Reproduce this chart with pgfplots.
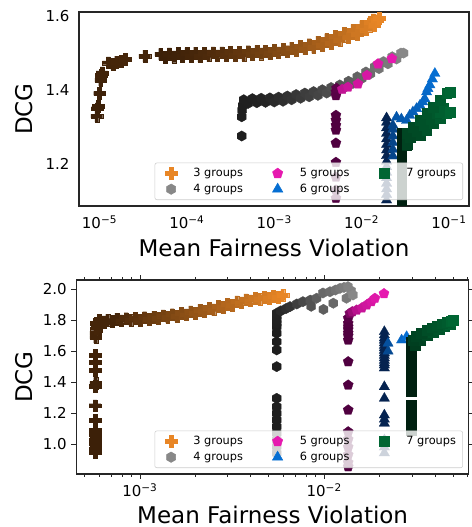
\documentclass[border=0pt]{standalone}
\usepackage{fontspec}
\setmainfont{DejaVu Sans}
\usepackage{pgfplots}
\usepackage{pgfplotstable}
\pgfplotsset{compat=1.18}

\definecolor{c3d}{RGB}{60,32,8}
\definecolor{c3l}{RGB}{232,134,38}
\definecolor{c4d}{RGB}{30,30,30}
\definecolor{c4l}{RGB}{136,136,136}
\definecolor{c5d}{RGB}{80,0,64}
\definecolor{c5l}{RGB}{230,25,175}
\definecolor{c6d}{RGB}{5,35,80}
\definecolor{c6l}{RGB}{5,110,210}
\definecolor{c7d}{RGB}{0,32,16}
\definecolor{c7l}{RGB}{0,102,51}

\pgfdeclareplotmark{fplus}{%
  \pgfpathmoveto{\pgfpoint{-0.3333\pgfplotmarksize}{-\pgfplotmarksize}}%
  \pgfpathlineto{\pgfpoint{0.3333\pgfplotmarksize}{-\pgfplotmarksize}}%
  \pgfpathlineto{\pgfpoint{0.3333\pgfplotmarksize}{-0.3333\pgfplotmarksize}}%
  \pgfpathlineto{\pgfpoint{\pgfplotmarksize}{-0.3333\pgfplotmarksize}}%
  \pgfpathlineto{\pgfpoint{\pgfplotmarksize}{0.3333\pgfplotmarksize}}%
  \pgfpathlineto{\pgfpoint{0.3333\pgfplotmarksize}{0.3333\pgfplotmarksize}}%
  \pgfpathlineto{\pgfpoint{0.3333\pgfplotmarksize}{\pgfplotmarksize}}%
  \pgfpathlineto{\pgfpoint{-0.3333\pgfplotmarksize}{\pgfplotmarksize}}%
  \pgfpathlineto{\pgfpoint{-0.3333\pgfplotmarksize}{0.3333\pgfplotmarksize}}%
  \pgfpathlineto{\pgfpoint{-\pgfplotmarksize}{0.3333\pgfplotmarksize}}%
  \pgfpathlineto{\pgfpoint{-\pgfplotmarksize}{-0.3333\pgfplotmarksize}}%
  \pgfpathlineto{\pgfpoint{-0.3333\pgfplotmarksize}{-0.3333\pgfplotmarksize}}%
  \pgfpathclose\pgfusepathqfillstroke}
\pgfdeclareplotmark{hexa}{%
  \pgfpathmoveto{\pgfpointpolar{90}{\pgfplotmarksize}}%
  \pgfpathlineto{\pgfpointpolar{150}{\pgfplotmarksize}}%
  \pgfpathlineto{\pgfpointpolar{210}{\pgfplotmarksize}}%
  \pgfpathlineto{\pgfpointpolar{270}{\pgfplotmarksize}}%
  \pgfpathlineto{\pgfpointpolar{330}{\pgfplotmarksize}}%
  \pgfpathlineto{\pgfpointpolar{30}{\pgfplotmarksize}}%
  \pgfpathclose\pgfusepathqfillstroke}

\pgfplotsset{
  grad/.style 2 args={
    scatter, only marks, forget plot, point meta=explicit,
    scatter/@pre marker code/.code={%
      \pgfmathsetmacro\mcpct{\pgfplotspointmetatransformed/10}%
      \colorlet{mc}{#2!\mcpct!#1}%
      \scope[draw=mc, fill=mc, line width=0.2pt]%
    },
    scatter/@post marker code/.code={\endscope},
  },
  m3/.style={mark=fplus, mark size=4.4pt},
  m4/.style={mark=hexa, mark size=3.9pt},
  m5/.style={mark=pentagon*, mark size=4pt},
  m6/.style={mark=triangle*, mark size=4.5pt},
  m7/.style={mark=square*, mark size=3.7pt},
  base/.style={
    scale only axis, anchor=south west,
    point meta min=0, point meta max=1,
    axis line style={black!85, line width=0.8pt},
    tick style={black!85, line width=0.7pt},
    tick align=outside,
    major tick length=3.6pt, minor tick length=2pt,
    tick label style={font=\fontsize{11.25}{13}\selectfont},
    /pgf/number format/assume math mode=true,
    yticklabel style={/pgf/number format/.cd, fixed, fixed zerofill, precision=1},
    label style={font=\fontsize{17.25}{20}\selectfont},
    legend columns=3,
    legend cell align=left,
    legend image code/.code={\path (0pt,0pt) (23.5pt,0pt); \draw[##1, fill opacity=1, draw opacity=1] plot coordinates {(9pt,0pt)};},
    legend style={
      at={(axis description cs:1,0)}, anchor=south east, xshift=-4.5pt, yshift=4.5pt,
      draw=black!20, fill=white, fill opacity=0.8, draw opacity=1, text opacity=1,
      rounded corners=1.5pt, font=\fontsize{8.5}{10}\selectfont,
      /tikz/every even column/.append style={column sep=14.75pt},
    },
  },
}

% ---------------- top panel data ----------------
\pgfplotstableread[row sep=\\]{
x y c\\
9.3e-6 1.330 0\\
9.4e-6 1.350 0\\
9.6e-6 1.357 0\\
1.00e-5 1.391 0.02\\
1.03e-5 1.427 0.02\\
1.05e-5 1.440 0.03\\
1.07e-5 1.447 0.03\\
1.26e-5 1.474 0.04\\
1.42e-5 1.470 0.04\\
1.57e-5 1.476 0.05\\
1.78e-5 1.478 0.05\\
1.96e-5 1.483 0.06\\
3.3e-5 1.492 0.04\\
5.01e-5 1.497 0.00\\
5.62e-5 1.489 0.00\\
6.31e-5 1.498 0.01\\
7.08e-5 1.490 0.02\\
7.94e-5 1.499 0.02\\
8.91e-5 1.491 0.03\\
1.00e-4 1.499 0.04\\
1.12e-4 1.492 0.05\\
1.26e-4 1.500 0.06\\
1.41e-4 1.492 0.08\\
1.58e-4 1.500 0.09\\
1.78e-4 1.493 0.10\\
2.00e-4 1.501 0.12\\
2.24e-4 1.493 0.13\\
2.51e-4 1.501 0.15\\
2.82e-4 1.494 0.16\\
3.16e-4 1.502 0.18\\
3.55e-4 1.494 0.20\\
3.98e-4 1.503 0.22\\
4.47e-4 1.495 0.23\\
5.01e-4 1.504 0.25\\
5.62e-4 1.497 0.27\\
6.31e-4 1.505 0.29\\
7.08e-4 1.498 0.31\\
7.94e-4 1.506 0.33\\
8.91e-4 1.499 0.35\\
1.00e-3 1.508 0.38\\
1.12e-3 1.501 0.40\\
1.26e-3 1.510 0.42\\
1.41e-3 1.504 0.44\\
1.58e-3 1.514 0.47\\
1.78e-3 1.508 0.49\\
2.00e-3 1.518 0.51\\
2.24e-3 1.512 0.54\\
2.51e-3 1.523 0.56\\
2.82e-3 1.515 0.59\\
3.16e-3 1.530 0.61\\
3.55e-3 1.521 0.64\\
3.98e-3 1.537 0.66\\
4.47e-3 1.527 0.69\\
5.01e-3 1.546 0.72\\
5.62e-3 1.534 0.74\\
6.31e-3 1.554 0.77\\
7.08e-3 1.542 0.80\\
7.94e-3 1.562 0.83\\
8.91e-3 1.551 0.85\\
1.00e-2 1.572 0.88\\
1.12e-2 1.563 0.91\\
1.26e-2 1.584 0.94\\
1.35e-2 1.590 0.95\\
1.41e-2 1.576 0.97\\
1.50e-2 1.588 0.98\\
1.58e-2 1.594 1.00\\
}\tTa

\pgfplotstableread[row sep=\\]{
x y c\\
4.24e-4 1.276 0\\
4.24e-4 1.328 0\\
4.30e-4 1.346 0\\
4.35e-4 1.358 0.01\\
4.47e-4 1.374 0.02\\
5.01e-4 1.364 0.02\\
5.62e-4 1.377 0.03\\
6.31e-4 1.366 0.04\\
7.08e-4 1.378 0.06\\
7.94e-4 1.367 0.07\\
8.91e-4 1.379 0.09\\
1.00e-3 1.368 0.12\\
1.12e-3 1.381 0.14\\
1.26e-3 1.370 0.16\\
1.41e-3 1.384 0.19\\
1.58e-3 1.374 0.21\\
1.78e-3 1.388 0.24\\
2.00e-3 1.378 0.26\\
2.24e-3 1.392 0.29\\
2.51e-3 1.382 0.31\\
2.82e-3 1.396 0.34\\
3.16e-3 1.386 0.37\\
3.55e-3 1.401 0.40\\
3.98e-3 1.392 0.43\\
4.47e-3 1.407 0.46\\
5.01e-3 1.398 0.48\\
5.62e-3 1.414 0.52\\
6.31e-3 1.407 0.55\\
7.08e-3 1.424 0.58\\
7.94e-3 1.418 0.61\\
8.91e-3 1.436 0.64\\
1.00e-2 1.431 0.67\\
1.12e-2 1.449 0.71\\
1.26e-2 1.444 0.74\\
1.41e-2 1.463 0.77\\
1.58e-2 1.458 0.81\\
1.78e-2 1.477 0.84\\
2.00e-2 1.471 0.87\\
2.24e-2 1.490 0.91\\
2.51e-2 1.484 0.94\\
2.82e-2 1.500 0.98\\
3.02e-2 1.500 1.00\\
}\tTb

\pgfplotstableread[row sep=\\]{
x y c\\
5.08e-3 1.108 0\\
5.08e-3 1.130 0\\
5.08e-3 1.165 0\\
5.08e-3 1.205 0\\
5.08e-3 1.257 0\\
5.08e-3 1.292 0\\
5.08e-3 1.305 0\\
5.08e-3 1.319 0\\
5.08e-3 1.332 0\\
5.08e-3 1.385 0.05\\
5.08e-3 1.395 0.05\\
5.15e-3 1.405 0.08\\
6.00e-3 1.402 0.75\\
6.97e-3 1.408 0.82\\
9.07e-3 1.417 0.86\\
1.15e-2 1.440 0.90\\
1.54e-2 1.471 0.95\\
2.22e-2 1.485 1.00\\
}\tTc

\pgfplotstableread[row sep=\\]{
x y c\\
1.93e-2 1.103 0\\
1.93e-2 1.118 0\\
1.93e-2 1.133 0\\
1.93e-2 1.148 0\\
1.93e-2 1.163 0\\
1.93e-2 1.178 0\\
1.93e-2 1.193 0\\
1.93e-2 1.208 0\\
1.93e-2 1.223 0\\
1.93e-2 1.238 0\\
1.93e-2 1.253 0\\
1.93e-2 1.268 0\\
1.93e-2 1.283 0\\
1.93e-2 1.298 0\\
1.93e-2 1.313 0\\
1.93e-2 1.325 0\\
2.28e-2 1.222 0.45\\
2.28e-2 1.240 0.45\\
2.28e-2 1.258 0.45\\
2.28e-2 1.276 0.45\\
2.28e-2 1.294 0.45\\
2.28e-2 1.305 0.45\\
2.51e-2 1.327 0.70\\
2.85e-2 1.322 0.72\\
3.27e-2 1.318 0.75\\
3.55e-2 1.332 0.78\\
3.86e-2 1.341 0.80\\
4.25e-2 1.350 0.83\\
4.65e-2 1.359 0.85\\
5.00e-2 1.368 0.88\\
5.30e-2 1.376 0.90\\
5.54e-2 1.395 0.92\\
5.74e-2 1.404 0.94\\
6.04e-2 1.414 0.96\\
6.45e-2 1.430 0.98\\
6.89e-2 1.445 1.00\\
}\tTd

\pgfplotstableread[row sep=\\]{
x y c\\
2.87e-2 1.103 0\\
2.87e-2 1.118 0\\
2.87e-2 1.133 0\\
2.87e-2 1.148 0\\
2.87e-2 1.163 0\\
2.87e-2 1.178 0\\
2.87e-2 1.193 0\\
2.87e-2 1.208 0\\
2.87e-2 1.223 0\\
2.87e-2 1.238 0\\
2.87e-2 1.253 0\\
2.87e-2 1.268 0\\
2.87e-2 1.283 0\\
3.27e-2 1.250 0.30\\
3.30e-2 1.255 0.50\\
4.65e-2 1.278 0.60\\
5.54e-2 1.292 0.70\\
6.55e-2 1.310 0.75\\
7.87e-2 1.325 0.85\\
9.39e-2 1.337 0.95\\
3.55e-2 1.272 0.55\\
4.25e-2 1.288 0.60\\
5.00e-2 1.305 0.70\\
6.00e-2 1.322 0.75\\
7.20e-2 1.338 0.80\\
8.60e-2 1.352 0.90\\
7.87e-2 1.341 0.90\\
1.02e-1 1.341 1.00\\
3.27e-2 1.284 0.55\\
3.86e-2 1.301 0.60\\
4.65e-2 1.319 0.70\\
5.54e-2 1.338 0.75\\
6.55e-2 1.355 0.80\\
7.87e-2 1.373 0.85\\
9.39e-2 1.392 0.95\\
1.02e-1 1.395 1.00\\
}\tTe

% ---------------- bottom panel data ----------------
\pgfplotstableread[row sep=\\]{
x y c\\
5.70e-4 0.944 0\\
5.70e-4 0.965 0\\
5.75e-4 0.985 0\\
5.70e-4 1.005 0\\
5.70e-4 1.025 0\\
5.75e-4 1.045 0\\
5.70e-4 1.065 0\\
5.70e-4 1.090 0\\
5.70e-4 1.155 0\\
5.70e-4 1.248 0.02\\
5.70e-4 1.375 0.02\\
5.75e-4 1.392 0.02\\
5.70e-4 1.478 0.03\\
5.70e-4 1.530 0.03\\
5.70e-4 1.575 0.03\\
5.75e-4 1.690 0.04\\
5.75e-4 1.717 0.04\\
5.80e-4 1.745 0.05\\
5.85e-4 1.770 0.05\\
5.80e-4 1.780 0.05\\
6.00e-4 1.785 0.06\\
6.10e-4 1.760 0.05\\
6.00e-4 1.800 0.05\\
6.31e-4 1.790 0.05\\
6.68e-4 1.800 0.05\\
7.08e-4 1.793 0.05\\
7.50e-4 1.808 0.06\\
7.94e-4 1.797 0.10\\
8.41e-4 1.811 0.12\\
8.91e-4 1.799 0.15\\
9.44e-4 1.813 0.18\\
1.000e-3 1.802 0.20\\
1.059e-3 1.817 0.23\\
1.122e-3 1.806 0.26\\
1.189e-3 1.821 0.28\\
1.259e-3 1.812 0.31\\
1.334e-3 1.829 0.33\\
1.413e-3 1.819 0.36\\
1.496e-3 1.837 0.38\\
1.585e-3 1.828 0.41\\
1.679e-3 1.846 0.43\\
1.778e-3 1.836 0.46\\
1.884e-3 1.855 0.48\\
1.995e-3 1.846 0.51\\
2.113e-3 1.866 0.54\\
2.239e-3 1.857 0.56\\
2.371e-3 1.877 0.59\\
2.512e-3 1.868 0.61\\
2.661e-3 1.890 0.64\\
2.818e-3 1.883 0.66\\
2.985e-3 1.905 0.69\\
3.162e-3 1.898 0.71\\
3.350e-3 1.920 0.74\\
3.548e-3 1.913 0.77\\
3.758e-3 1.933 0.79\\
3.981e-3 1.926 0.82\\
4.217e-3 1.943 0.84\\
4.467e-3 1.936 0.87\\
4.732e-3 1.950 0.89\\
5.012e-3 1.943 0.92\\
5.309e-3 1.956 0.94\\
5.623e-3 1.950 0.97\\
5.957e-3 1.962 1.00\\
}\tBa

\pgfplotstableread[row sep=\\]{
x y c\\
5.52e-3 0.940 0\\
5.52e-3 0.983 0\\
5.52e-3 1.026 0\\
5.52e-3 1.069 0\\
5.52e-3 1.112 0\\
5.52e-3 1.155 0\\
5.52e-3 1.198 0\\
5.52e-3 1.241 0\\
5.52e-3 1.295 0\\
5.52e-3 1.500 0\\
5.52e-3 1.608 0\\
5.52e-3 1.661 0\\
5.52e-3 1.716 0\\
5.52e-3 1.758 0\\
5.52e-3 1.780 0.02\\
5.52e-3 1.802 0.03\\
5.52e-3 1.825 0.04\\
5.52e-3 1.845 0.05\\
5.80e-3 1.860 0.10\\
6.20e-3 1.875 0.15\\
6.52e-3 1.888 0.20\\
7.10e-3 1.905 0.30\\
7.66e-3 1.920 0.40\\
8.40e-3 1.930 0.50\\
8.50e-3 1.890 0.50\\
9.09e-3 1.942 0.60\\
9.90e-3 1.870 0.60\\
9.84e-3 1.976 0.70\\
1.12e-2 1.910 0.70\\
1.074e-2 1.984 0.75\\
1.15e-2 1.995 0.80\\
1.217e-2 2.006 0.85\\
1.32e-2 1.942 0.85\\
1.28e-2 2.012 0.90\\
1.345e-2 2.017 0.95\\
1.40e-2 1.990 0.95\\
1.432e-2 1.963 1.00\\
}\tBb

\pgfplotstableread[row sep=\\]{
x y c\\
1.349e-2 0.853 0\\
1.349e-2 0.880 0\\
1.349e-2 0.930 0\\
1.349e-2 0.980 0\\
1.349e-2 1.030 0\\
1.349e-2 1.079 0\\
1.349e-2 1.220 0\\
1.349e-2 1.381 0\\
1.349e-2 1.532 0\\
1.349e-2 1.672 0\\
1.349e-2 1.700 0\\
1.349e-2 1.718 0\\
1.349e-2 1.740 0\\
1.349e-2 1.758 0\\
1.349e-2 1.780 0.02\\
1.349e-2 1.813 0.05\\
1.377e-2 1.845 0.30\\
1.420e-2 1.855 0.50\\
1.499e-2 1.866 0.70\\
1.600e-2 1.880 0.80\\
1.698e-2 1.899 0.85\\
1.800e-2 1.920 0.90\\
1.884e-2 1.942 0.95\\
2.110e-2 1.972 1.00\\
}\tBc

\pgfplotstableread[row sep=\\]{
x y c\\
2.12e-2 0.942 0\\
2.12e-2 0.980 0\\
2.12e-2 1.026 0\\
2.12e-2 1.134 0\\
2.12e-2 1.160 0\\
2.12e-2 1.187 0\\
2.12e-2 1.295 0\\
2.12e-2 1.370 0\\
2.12e-2 1.491 0\\
2.12e-2 1.510 0\\
2.12e-2 1.524 0\\
2.12e-2 1.540 0\\
2.12e-2 1.556 0\\
2.12e-2 1.572 0\\
2.12e-2 1.588 0\\
2.12e-2 1.605 0\\
2.12e-2 1.621 0\\
2.12e-2 1.637 0\\
2.12e-2 1.653 0\\
2.12e-2 1.670 0\\
2.12e-2 1.685 0\\
2.12e-2 1.705 0\\
2.12e-2 1.726 0\\
2.22e-2 1.600 0.50\\
2.22e-2 1.651 0.60\\
2.63e-2 1.672 0.90\\
2.80e-2 1.694 1.00\\
}\tBd

\pgfplotstableread[row sep=\\]{
x y c\\
2.97e-2 1.090 0\\
2.97e-2 1.110 0\\
2.97e-2 1.130 0\\
2.97e-2 1.150 0\\
2.97e-2 1.170 0\\
2.97e-2 1.190 0\\
2.97e-2 1.210 0\\
2.97e-2 1.230 0\\
2.97e-2 1.250 0\\
2.97e-2 1.340 0\\
2.97e-2 1.360 0\\
2.97e-2 1.380 0\\
2.97e-2 1.400 0\\
2.97e-2 1.420 0\\
2.97e-2 1.440 0\\
2.97e-2 1.460 0\\
2.97e-2 1.480 0\\
2.97e-2 1.500 0\\
2.97e-2 1.520 0\\
2.97e-2 1.540 0\\
2.97e-2 1.560 0\\
2.97e-2 1.580 0\\
2.97e-2 1.600 0\\
2.97e-2 1.620 0\\
2.97e-2 1.640 0\\
2.97e-2 1.660 0\\
3.10e-2 1.640 0.40\\
3.30e-2 1.670 0.50\\
3.60e-2 1.700 0.60\\
3.90e-2 1.725 0.70\\
4.20e-2 1.745 0.75\\
4.50e-2 1.762 0.80\\
4.80e-2 1.775 0.90\\
3.05e-2 1.670 0.45\\
3.17e-2 1.695 0.50\\
3.35e-2 1.715 0.55\\
3.60e-2 1.735 0.65\\
3.85e-2 1.752 0.70\\
4.08e-2 1.765 0.75\\
4.35e-2 1.778 0.80\\
4.62e-2 1.788 0.85\\
4.85e-2 1.795 0.95\\
5.01e-2 1.800 1.00\\
}\tBe

\begin{document}
\begin{tikzpicture}
\useasboundingbox (0,0) rectangle (353.25pt,-395.25pt);

\begin{axis}[base,
  at={(59.25pt,-154.5pt)},
  width=292.5pt, height=145.5pt,
  xmode=log, xmin=5.82e-6, xmax=0.1694, ymin=1.087, ymax=1.611,
  xtick={1e-5,1e-4,1e-3,1e-2,1e-1},
  xticklabels={10\textsuperscript{−5},10\textsuperscript{−4},10\textsuperscript{−3},10\textsuperscript{−2},10\textsuperscript{−1}},
  xminorticks=false,
  ytick={1.2,1.4,1.6},
  tick style={draw=none},
  xlabel={Mean Fairness Violation},
  ylabel={DCG},
  xlabel style={at={(axis description cs:0.5,-0.258)}, anchor=base},
  ylabel style={at={(axis description cs:-0.141,0.5)}, anchor=center},
]
\addplot[grad={c3d}{c3l}, m3] table[x=x,y=y,meta=c] {\tTa};
\addplot[grad={c4d}{c4l}, m4] table[x=x,y=y,meta=c] {\tTb};
\addplot[grad={c5d}{c5l}, m5] table[x=x,y=y,meta=c] {\tTc};
\addplot[grad={c6d}{c6l}, m6] table[x=x,y=y,meta=c] {\tTd};
\addplot[grad={c7d}{c7l}, m7] table[x=x,y=y,meta=c] {\tTe};
\addlegendimage{only marks, m3, fill=c3l, draw=c3l}
\addlegendentry{3 groups}
\addlegendimage{only marks, m5, fill=c5l, draw=c5l}
\addlegendentry{5 groups}
\addlegendimage{only marks, m7, fill=c7l, draw=c7l}
\addlegendentry{7 groups}
\addlegendimage{only marks, m4, fill=c4l, draw=c4l}
\addlegendentry{4 groups}
\addlegendimage{only marks, m6, fill=c6l, draw=c6l}
\addlegendentry{6 groups}
\end{axis}

\begin{axis}[base,
  at={(57.2pt,-355.5pt)},
  width=294.5pt, height=145.5pt,
  xmode=log, xmin=4.51e-4, xmax=0.0610, ymin=0.806, ymax=2.06,
  xtick={1e-3,1e-2},
  xticklabels={10\textsuperscript{−3},10\textsuperscript{−2}},
  minor xtick={5e-4,6e-4,7e-4,8e-4,9e-4,2e-3,3e-3,4e-3,5e-3,6e-3,7e-3,8e-3,9e-3,2e-2,3e-2,4e-2,5e-2,6e-2},
  ytick={1.0,1.2,1.4,1.6,1.8,2.0},
  xlabel={Mean Fairness Violation},
  ylabel={DCG},
  xlabel style={at={(axis description cs:0.5,-0.2526)}, anchor=base},
  ylabel style={at={(axis description cs:-0.133,0.5)}, anchor=center},
]
\addplot[grad={c3d}{c3l}, m3] table[x=x,y=y,meta=c] {\tBa};
\addplot[grad={c4d}{c4l}, m4] table[x=x,y=y,meta=c] {\tBb};
\addplot[grad={c5d}{c5l}, m5] table[x=x,y=y,meta=c] {\tBc};
\addplot[grad={c6d}{c6l}, m6] table[x=x,y=y,meta=c] {\tBd};
\addplot[grad={c7d}{c7l}, m7] table[x=x,y=y,meta=c] {\tBe};
\addlegendimage{only marks, m3, fill=c3l, draw=c3l}
\addlegendentry{3 groups}
\addlegendimage{only marks, m5, fill=c5l, draw=c5l}
\addlegendentry{5 groups}
\addlegendimage{only marks, m7, fill=c7l, draw=c7l}
\addlegendentry{7 groups}
\addlegendimage{only marks, m4, fill=c4l, draw=c4l}
\addlegendentry{4 groups}
\addlegendimage{only marks, m6, fill=c6l, draw=c6l}
\addlegendentry{6 groups}
\end{axis}
\end{tikzpicture}
\end{document}
